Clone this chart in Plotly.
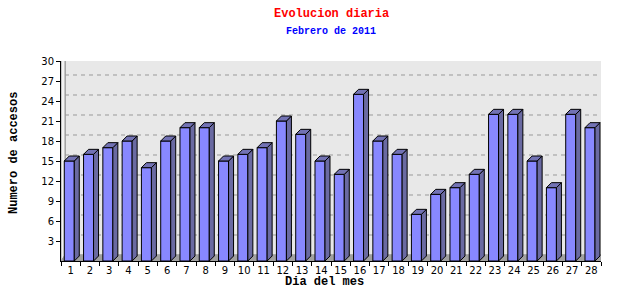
import plotly.graph_objects as go

days = list(range(1, 29))
day_labels = [str(d) for d in days]
accesses = [15, 16, 17, 18, 14, 18, 20, 20, 15, 16, 17, 21, 19, 15, 13, 25, 18, 16,
            7, 10, 11, 13, 22, 22, 15, 11, 22, 20]
y_ticks = list(range(3, 31, 3))

title_text = "Evolucion diaria"
subtitle_text = "Febrero de 2011"
x_title = "Dia del mes"
y_title = "Numero de accesos"

# geometry (pixels -> data units)
W, H = 640, 300
ml, mr, mt, mb = 61, 39, 61, 39
pw, ph = W - ml - mr, H - mt - mb
xmin, xmax = 0.5, 28.5
ymin, ymax = 0, 30
px_x = (xmax - xmin) / pw
px_y = (ymax - ymin) / ph

bar_w = 10 * px_x
bar_off = -0.33
ddx, ddy = 5 * px_x, 5 * px_y          # bar depth
pdx, pdy = 4 * px_x, 6 * px_y          # back plane depth

FRONT = "#8888ff"
SIDE = "#6a6aa2"
TOP = "#7272b4"

fig = go.Figure()
fig.add_trace(go.Bar(
    x=days, y=accesses, width=bar_w, offset=bar_off,
    marker=dict(color=FRONT, line=dict(color="black", width=1)),
    hoverinfo="skip", showlegend=False))

for d, v in zip(days, accesses):
    xl = d + bar_off
    xr = xl + bar_w
    # side face
    fig.add_trace(go.Scatter(
        x=[xr, xr + ddx, xr + ddx, xr, xr],
        y=[0, ddy, v + ddy, v, 0],
        mode="lines", fill="toself", fillcolor=SIDE,
        line=dict(color="black", width=1), hoverinfo="skip", showlegend=False))
    # top face
    fig.add_trace(go.Scatter(
        x=[xl, xl + ddx, xr + ddx, xr, xl],
        y=[v, v + ddy, v + ddy, v, v],
        mode="lines", fill="toself", fillcolor=TOP,
        line=dict(color="black", width=1), hoverinfo="skip", showlegend=False))

shapes = []
# back plane
shapes.append(dict(type="rect", xref="x", yref="y", layer="below",
                   x0=xmin + pdx, x1=xmax + pdx, y0=ymin + pdy, y1=ymax + pdy,
                   fillcolor="#e8e8e8", line=dict(color="#999999", width=1.5)))
# left wall
shapes.append(dict(type="path", xref="x", yref="y", layer="below",
                   path=f"M {xmin},{ymin} L {xmin + pdx},{ymin + pdy} L {xmin + pdx},{ymax + pdy} L {xmin},{ymax} Z",
                   fillcolor="#f2f2f2", line=dict(color="#999999", width=1)))
# floor
shapes.append(dict(type="path", xref="x", yref="y", layer="below",
                   path=f"M {xmin},{ymin} L {xmin + pdx},{ymin + pdy} L {xmax + pdx},{ymin + pdy} L {xmax},{ymin} Z",
                   fillcolor="#a0a0a0", line=dict(color="#a0a0a0", width=0)))
# dashed grid on back plane
for t in y_ticks[:-1]:
    shapes.append(dict(type="line", xref="x", yref="y", layer="below",
                       x0=xmin + pdx, x1=xmax + pdx, y0=t + pdy, y1=t + pdy,
                       line=dict(color="#999999", width=1, dash="4px,4px")))

fig.update_layout(
    width=W, height=H,
    margin=dict(l=ml, r=mr, t=mt, b=mb, pad=0),
    paper_bgcolor="white", plot_bgcolor="white",
    shapes=shapes,
    font=dict(family="DejaVu Sans", size=10, color="black"),
    xaxis=dict(range=[xmin, xmax], tickvals=days, ticktext=day_labels,
               ticks="", showline=True, linecolor="black", linewidth=1,
               showgrid=False, zeroline=False,
               minor=dict(tick0=0.5, dtick=1, ticks="outside", ticklen=4,
                          tickcolor="black", showgrid=False),
               tickfont=dict(size=10)),
    yaxis=dict(range=[ymin, ymax], tickvals=y_ticks, ticks="outside", ticklen=4,
               tickcolor="black", showline=True, linecolor="black", linewidth=1,
               showgrid=False, zeroline=False, tickfont=dict(size=10)),
    annotations=[
        dict(text=f"<b>{title_text}</b>", xref="paper", yref="paper", x=0.5,
             y=1 + (mt - 14) / ph, xanchor="center", yanchor="middle", showarrow=False,
             font=dict(family="Liberation Mono", size=12, color="red")),
        dict(text=f"<b>{subtitle_text}</b>", xref="paper", yref="paper", x=0.5,
             y=1 + (mt - 32) / ph, xanchor="center", yanchor="middle", showarrow=False,
             font=dict(family="Liberation Mono", size=10, color="blue")),
        dict(text=f"<b>{x_title}</b>", xref="paper", yref="paper",
             x=(324 - ml) / pw, y=-(282 - (H - mb)) / ph,
             xanchor="center", yanchor="middle", showarrow=False,
             font=dict(family="Liberation Mono", size=12, color="black")),
        dict(text=f"<b>{y_title}</b>", xref="paper", yref="paper",
             x=-(ml - 14) / pw, y=1 - (153 - mt) / ph, textangle=-90,
             xanchor="center", yanchor="middle", showarrow=False,
             font=dict(family="Liberation Mono", size=12, color="black")),
    ],
)

fig.write_html("out.html")
